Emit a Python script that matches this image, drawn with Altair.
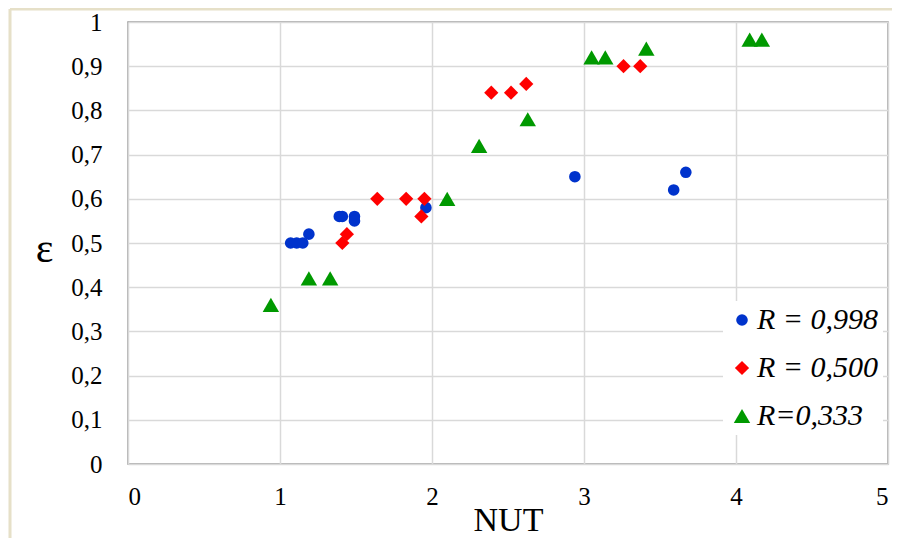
import altair as alt
import pandas as pd

series_labels = ["R = 0,998", "R = 0,500", "R=0,333"]
series_colors = ["#0033cc", "#ff0000", "#009900"]
series_shapes = ["circle", "diamond", "triangle-up"]
series_sizes = [135, 270, 320]

blue_x = [1.07, 1.11, 1.15, 1.19, 1.39, 1.41, 1.49, 1.49, 1.96, 2.94, 3.59, 3.67]
blue_y = [0.50, 0.50, 0.50, 0.52, 0.56, 0.56, 0.56, 0.55, 0.58, 0.65, 0.62, 0.66]

red_x = [1.41, 1.44, 1.64, 1.83, 1.93, 1.95, 2.39, 2.52, 2.62, 3.26, 3.37]
red_y = [0.50, 0.52, 0.60, 0.60, 0.56, 0.60, 0.84, 0.84, 0.86, 0.90, 0.90]

green_x = [0.94, 1.19, 1.33, 2.10, 2.31, 2.63, 3.05, 3.14, 3.41, 4.09, 4.17]
green_y = [0.36, 0.42, 0.42, 0.60, 0.72, 0.78, 0.92, 0.92, 0.94, 0.96, 0.96]

x_ticks = [0, 1, 2, 3, 4, 5]
y_ticks = [0, 0.1, 0.2, 0.3, 0.4, 0.5, 0.6, 0.7, 0.8, 0.9, 1]

rows = []
for lab, xs, ys in zip(series_labels, [blue_x, red_x, green_x], [blue_y, red_y, green_y]):
    for xv, yv in zip(xs, ys):
        rows.append({"series": lab, "NUT": xv, "eps": yv})
df = pd.DataFrame(rows)

W, H = 760, 442
serif = "Liberation Serif"

points = alt.Chart(df).mark_point(filled=True, opacity=1).encode(
    x=alt.X("NUT:Q", scale=alt.Scale(domain=[0, 5], nice=False),
            axis=alt.Axis(values=x_ticks, title="NUT", format="d",
                          labelPadding=20, ticks=False, domain=False,
                          titleFontSize=34, titleBaseline="alphabetic", titleY=66)),
    y=alt.Y("eps:Q", scale=alt.Scale(domain=[0, 1], nice=False),
            axis=alt.Axis(values=y_ticks, title="ε",
                          labelExpr="datum.value == 0 ? '0' : datum.value == 1 ? '1' : replace(format(datum.value, '.1f'), '.', ',')",
                          labelPadding=26, ticks=False, domain=False,
                          titleFontSize=42, titleAngle=0, titleAlign="center",
                          titleBaseline="middle", titleX=-84, titleY=226)),
    color=alt.Color("series:N", scale=alt.Scale(domain=series_labels, range=series_colors),
                    legend=alt.Legend(orient="none", legendX=595, legendY=279,
                                      title=None, fillColor="white", padding=4,
                                      labelFontStyle="italic",
                                      labelFontSize=30, labelColor="#000",
                                      symbolSize=150, rowPadding=18, labelOffset=0,
                                      symbolStrokeWidth=0)),
    shape=alt.Shape("series:N", scale=alt.Scale(domain=series_labels, range=series_shapes)),
    size=alt.Size("series:N", scale=alt.Scale(domain=series_labels, range=series_sizes), legend=None),
)

frame = alt.Chart(pd.DataFrame({"a": [0]})).mark_rule(color="#e6e0c8", strokeWidth=3).encode(
    x=alt.value(-118), y=alt.value(-13), y2=alt.value(H + 80)
)
frame_top = alt.Chart(pd.DataFrame({"a": [0]})).mark_rule(color="#e6e0c8", strokeWidth=3).encode(
    x=alt.value(-118), x2=alt.value(W + 10), y=alt.value(-13)
)

chart = alt.layer(frame, frame_top, points).properties(
    width=W, height=H,
    autosize=alt.AutoSizeParams(type="none"),
    padding={"left": 120, "top": 14, "right": 4, "bottom": 74},
).configure(font=serif).configure_view(stroke="#999999", strokeWidth=1.5).configure_axis(
    gridColor="#d9d9d9", gridWidth=1.5,
    labelFont=serif, labelFontSize=25, labelColor="#000",
    titleFont=serif, titleFontWeight="normal", titleColor="#000",
).configure_legend(labelFont=serif)

chart.save("out.html", embed_options={"renderer": "svg", "actions": False})
